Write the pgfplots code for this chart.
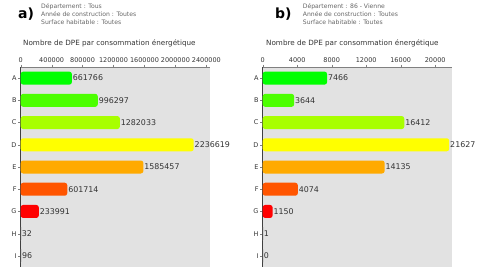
\documentclass[border=0pt]{standalone}
\usepackage{fontspec}
\setmainfont{DejaVu Sans}
\usepackage{pgfplots}
\pgfplotsset{compat=1.18}
\definecolor{cA}{HTML}{00FF00}
\definecolor{cB}{HTML}{4CFF00}
\definecolor{cC}{HTML}{A8FF00}
\definecolor{cD}{HTML}{FFFF00}
\definecolor{cE}{HTML}{FFAA00}
\definecolor{cF}{HTML}{FF5500}
\definecolor{cG}{HTML}{FF0000}
\definecolor{bggray}{HTML}{E2E2E2}
\definecolor{txt}{HTML}{333333}
\pgfplotsset{
  dpe/.style={
    xbar, scale only axis, width=189pt, height=200pt,
    y dir=reverse, ymin=-0.5, ymax=8.5, xmin=0,
    ytick={0,...,8}, yticklabels={A,B,C,D,E,F,G,H,I},
    axis x line*=top, axis y line*=left,
    x axis line style={draw=gray, -},
    y axis line style={draw=black!75, line width=0.8pt, -},
    axis background/.style={fill=bggray},
    tick style={draw=gray}, tick align=outside, major tick length=2.5pt,
    bar width=13pt, bar shift=0pt,
    tick label style={font=\fontsize{6.5}{7}\selectfont, text=txt},
    /pgf/number format/assume math mode=true,
    scaled x ticks=false,
    xticklabel style={/pgf/number format/1000 sep={}, /pgf/number format/fixed},
    xticklabel pos=upper,
    xtick align=outside,
    yticklabel style={inner sep=1.5pt},
    xticklabel style={inner sep=1.5pt},
    point meta=x,
    nodes near coords={\pgfmathprintnumber[fixed,precision=0,1000 sep={}]{\pgfplotspointmeta}},
    nodes near coords style={font=\fontsize{7.9}{9}\selectfont, text=txt, anchor=west, inner sep=0.8pt},
    clip=false,
  },
  rb/.style={draw=none, fill=#1, rounded corners=2.5pt},
  tb/.style={draw=black!70, line width=0.6pt, fill=black!70},
}
\begin{document}
\begin{tikzpicture}
\useasboundingbox (0,0) rectangle (480pt,277pt);
% panel a
\node[anchor=base west, font=\bfseries\fontsize{14}{14}\selectfont, inner sep=0pt] at (18pt,259pt) {a)};
\node[anchor=base west, font=\fontsize{6.1}{6}\selectfont, text=black!60, inner sep=0pt] at (41pt,268.5pt) {Département : Tous};
\node[anchor=base west, font=\fontsize{6.1}{6}\selectfont, text=black!60, inner sep=0pt] at (41pt,260.3pt) {Année de construction : Toutes};
\node[anchor=base west, font=\fontsize{6.1}{6}\selectfont, text=black!60, inner sep=0pt] at (41pt,252.2pt) {Surface habitable : Toutes};
\node[anchor=base west, font=\fontsize{7.2}{8}\selectfont, text=txt, inner sep=0pt] at (23pt,231.5pt) {Nombre de DPE par consommation énergétique};
\begin{axis}[dpe, at={(20.7pt,10pt)}, anchor=south west, xmax=2443000,
  xtick={0,400000,800000,1200000,1600000,2000000,2400000}]
\addplot[rb=cA] coordinates {(661766,0)};
\addplot[rb=cB] coordinates {(996297,1)};
\addplot[rb=cC] coordinates {(1282033,2)};
\addplot[rb=cD] coordinates {(2236619,3)};
\addplot[rb=cE] coordinates {(1585457,4)};
\addplot[rb=cF] coordinates {(601714,5)};
\addplot[rb=cG] coordinates {(233991,6)};
\addplot[tb] coordinates {(32,7)};
\addplot[tb, line width=1.2pt] coordinates {(96,8)};
\end{axis}
% panel b
\node[anchor=base west, font=\bfseries\fontsize{14}{14}\selectfont, inner sep=0pt] at (275pt,259pt) {b)};
\node[anchor=base west, font=\fontsize{6.1}{6}\selectfont, text=black!60, inner sep=0pt] at (302.7pt,268.5pt) {Département : 86 - Vienne};
\node[anchor=base west, font=\fontsize{6.1}{6}\selectfont, text=black!60, inner sep=0pt] at (302.7pt,260.3pt) {Année de construction : Toutes};
\node[anchor=base west, font=\fontsize{6.1}{6}\selectfont, text=black!60, inner sep=0pt] at (302.7pt,252.2pt) {Surface habitable : Toutes};
\node[anchor=base west, font=\fontsize{7.2}{8}\selectfont, text=txt, inner sep=0pt] at (266pt,231.5pt) {Nombre de DPE par consommation énergétique};
\begin{axis}[dpe, at={(262.7pt,10pt)}, anchor=south west, xmax=21913,
  xtick={0,4000,8000,12000,16000,20000}]
\addplot[rb=cA] coordinates {(7466,0)};
\addplot[rb=cB] coordinates {(3644,1)};
\addplot[rb=cC] coordinates {(16412,2)};
\addplot[rb=cD] coordinates {(21627,3)};
\addplot[rb=cE] coordinates {(14135,4)};
\addplot[rb=cF] coordinates {(4074,5)};
\addplot[rb=cG] coordinates {(1150,6)};
\addplot[tb] coordinates {(1,7)};
\addplot[tb] coordinates {(0,8)};
\end{axis}
\end{tikzpicture}
\end{document}
